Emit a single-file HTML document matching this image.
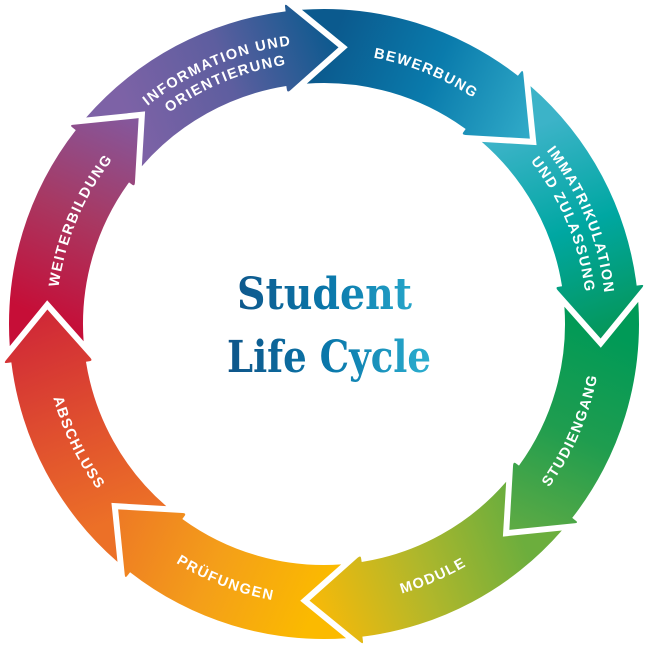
<!DOCTYPE html>
<html>
<head>
<meta charset="utf-8">
<style>
html,body{margin:0;padding:0;background:#fff;width:648px;height:648px;overflow:hidden;}
svg{display:block;overflow:hidden;}
.lbl{font-family:"Liberation Sans",Arial,sans-serif;font-weight:bold;font-size:14.5px;letter-spacing:1.45px;fill:#fff;}
.ttl{font-family:"DejaVu Serif","Liberation Serif",serif;font-weight:bold;font-size:44px;}
</style>
</head>
<body>
<svg width="648" height="648" viewBox="0 0 648 648" xmlns="http://www.w3.org/2000/svg">
<defs>
  <linearGradient id="g1" gradientUnits="userSpaceOnUse" x1="121" y1="135" x2="318" y2="47" gradientTransform="rotate(3 324 324)">
    <stop offset="0" stop-color="#7d62a6"/><stop offset="0.5" stop-color="#5d5e9f"/><stop offset="1" stop-color="#0f5a8f"/>
  </linearGradient>
  <linearGradient id="g2" gradientUnits="userSpaceOnUse" x1="121" y1="135" x2="318" y2="47" gradientTransform="rotate(48 324 324)">
    <stop offset="0" stop-color="#0b5a8e"/><stop offset="0.5" stop-color="#0a7bac"/><stop offset="1" stop-color="#2fa9c7"/>
  </linearGradient>
  <linearGradient id="g3" gradientUnits="userSpaceOnUse" x1="121" y1="135" x2="318" y2="47" gradientTransform="rotate(93 324 324)">
    <stop offset="0" stop-color="#3cb3c8"/><stop offset="0.5" stop-color="#00a7a2"/><stop offset="1" stop-color="#05975c"/>
  </linearGradient>
  <linearGradient id="g4" gradientUnits="userSpaceOnUse" x1="121" y1="135" x2="318" y2="47" gradientTransform="rotate(138 324 324)">
    <stop offset="0" stop-color="#009a57"/><stop offset="0.5" stop-color="#1f9d4f"/><stop offset="1" stop-color="#5caa44"/>
  </linearGradient>
  <linearGradient id="g5" gradientUnits="userSpaceOnUse" x1="121" y1="135" x2="318" y2="47" gradientTransform="rotate(183 324 324)">
    <stop offset="0" stop-color="#6cae3d"/><stop offset="0.5" stop-color="#b0b72b"/><stop offset="1" stop-color="#f5b90a"/>
  </linearGradient>
  <linearGradient id="g6" gradientUnits="userSpaceOnUse" x1="121" y1="135" x2="318" y2="47" gradientTransform="rotate(228 324 324)">
    <stop offset="0" stop-color="#fbba00"/><stop offset="0.5" stop-color="#f49f19"/><stop offset="1" stop-color="#ee7b24"/>
  </linearGradient>
  <linearGradient id="g7" gradientUnits="userSpaceOnUse" x1="121" y1="135" x2="318" y2="47" gradientTransform="rotate(273 324 324)">
    <stop offset="0" stop-color="#ec7027"/><stop offset="0.5" stop-color="#df4d2f"/><stop offset="1" stop-color="#d02937"/>
  </linearGradient>
  <linearGradient id="g8" gradientUnits="userSpaceOnUse" x1="121" y1="135" x2="318" y2="47" gradientTransform="rotate(318 324 324)">
    <stop offset="0" stop-color="#c60e37"/><stop offset="0.5" stop-color="#a83862"/><stop offset="1" stop-color="#85579b"/>
  </linearGradient>
  <linearGradient id="tg" gradientUnits="userSpaceOnUse" x1="225" y1="0" x2="435" y2="0">
    <stop offset="0" stop-color="#0f5488"/><stop offset="0.5" stop-color="#0a78ab"/><stop offset="1" stop-color="#2db1d1"/>
  </linearGradient>

  <path id="t1" d="M64.3,218.0 A280.5,280.5 0 0 1 430.0,64.3"/>
  <path id="t2" d="M82.5,222.5 A262,262 0 0 1 425.5,82.5"/>
  <path id="t3" d="M218.6,74.4 A271,271 0 0 1 573.6,218.6"/>
  <path id="t4" d="M434.2,64.4 A282,282 0 0 1 583.6,434.2"/>
  <path id="t5" d="M424.6,81.0 A263,263 0 0 1 567.0,424.6"/>
  <path id="t6" d="M426.8,582.3 A278,278 0 0 0 582.3,221.2"/>
  <path id="t7" d="M220.7,584.8 A280.5,280.5 0 0 0 584.8,427.3"/>
  <path id="t8" d="M67.1,437.8 A281,281 0 0 0 437.8,580.9"/>
  <path id="t9" d="M59.1,231.7 A280.5,280.5 0 0 0 231.7,588.9"/>
  <path id="t10" d="M75.5,424.4 A268,268 0 0 1 223.6,75.5"/>
</defs>

<!-- INFORMATION UND ORIENTIERUNG -->
<path fill="url(#g1)" d="M86.14,117.49 A315,315 0 0 1 285.61,11.35 L285.00,6.38 Q284.64,3.41 287.76,5.94 L338.50,47.38 L290.40,90.22 Q287.40,92.88 286.93,89.92 L286.30,85.97 A241,241 0 0 0 141.83,166.22 L145.10,111.43 Z"/>
<!-- BEWERBUNG -->
<path fill="url(#g2)" d="M301.92,9.77 A315,315 0 0 1 517.93,75.78 L521.01,71.84 Q522.86,69.47 523.28,73.47 L529.85,138.65 L465.55,134.94 Q461.54,134.69 463.31,132.26 L465.66,129.03 A241,241 0 0 0 306.81,83.61 L347.78,47.19 Z"/>
<!-- IMMATRIKULATION -->
<path fill="url(#g3)" d="M530.51,86.14 A315,315 0 0 1 636.65,285.61 L641.62,285.00 Q644.59,284.64 642.06,287.76 L600.62,338.50 L557.78,290.40 Q555.12,287.40 558.08,286.93 L562.03,286.30 A241,241 0 0 0 481.78,141.83 L536.57,145.10 Z"/>
<!-- STUDIENGANG -->
<path fill="url(#g4)" d="M638.23,301.92 A315,315 0 0 1 572.22,517.93 L576.16,521.01 Q578.53,522.86 574.53,523.28 L509.35,529.85 L513.06,465.55 Q513.31,461.54 515.74,463.31 L518.97,465.66 A241,241 0 0 0 564.39,306.81 L600.81,347.78 Z"/>
<!-- MODULE -->
<path fill="url(#g5)" d="M561.86,530.51 A315,315 0 0 1 362.39,636.65 L363.00,641.62 Q363.36,644.59 360.24,642.06 L309.50,600.62 L357.60,557.78 Q360.60,555.12 361.07,558.08 L361.70,562.03 A241,241 0 0 0 506.17,481.78 L502.90,536.57 Z"/>
<!-- PRÜFUNGEN -->
<path fill="url(#g6)" d="M346.08,638.23 A315,315 0 0 1 130.07,572.22 L126.99,576.16 Q125.14,578.53 124.72,574.53 L118.15,509.35 L182.45,513.06 Q186.46,513.31 184.69,515.74 L182.34,518.97 A241,241 0 0 0 341.19,564.39 L300.22,600.81 Z"/>
<!-- ABSCHLUSS -->
<path fill="url(#g7)" d="M117.49,561.86 A315,315 0 0 1 11.35,362.39 L6.38,363.00 Q3.41,363.36 5.94,360.24 L47.38,309.50 L90.22,357.60 Q92.88,360.60 89.92,361.07 L85.97,361.70 A241,241 0 0 0 166.22,506.17 L111.43,502.90 Z"/>
<!-- WEITERBILDUNG -->
<path fill="url(#g8)" d="M9.77,346.08 A315,315 0 0 1 75.78,130.07 L71.84,126.99 Q69.47,125.14 73.47,124.72 L138.65,118.15 L134.94,182.45 Q134.69,186.46 132.26,184.69 L129.03,182.34 A241,241 0 0 0 83.61,341.19 L47.19,300.22 Z"/>

<text class="lbl"><textPath href="#t1" startOffset="50%" text-anchor="middle">INFORMATION UND</textPath></text>
<text class="lbl"><textPath href="#t2" startOffset="50%" text-anchor="middle">ORIENTIERUNG</textPath></text>
<text class="lbl"><textPath href="#t3" startOffset="50%" text-anchor="middle">BEWERBUNG</textPath></text>
<text class="lbl"><textPath href="#t4" startOffset="50%" text-anchor="middle">IMMATRIKULATION</textPath></text>
<text class="lbl"><textPath href="#t5" startOffset="50%" text-anchor="middle">UND ZULASSUNG</textPath></text>
<text class="lbl"><textPath href="#t6" startOffset="50%" text-anchor="middle">STUDIENGANG</textPath></text>
<text class="lbl"><textPath href="#t7" startOffset="50%" text-anchor="middle">MODULE</textPath></text>
<text class="lbl"><textPath href="#t8" startOffset="50%" text-anchor="middle">PRÜFUNGEN</textPath></text>
<text class="lbl"><textPath href="#t9" startOffset="50%" text-anchor="middle">ABSCHLUSS</textPath></text>
<text class="lbl"><textPath href="#t10" startOffset="50%" text-anchor="middle">WEITERBILDUNG</textPath></text>

<text class="ttl" x="237" y="309" textLength="175" lengthAdjust="spacingAndGlyphs" fill="url(#tg)">Student</text>
<text class="ttl" x="227" y="372" textLength="204" lengthAdjust="spacingAndGlyphs" fill="url(#tg)">Life Cycle</text>
</svg>
</body>
</html>
